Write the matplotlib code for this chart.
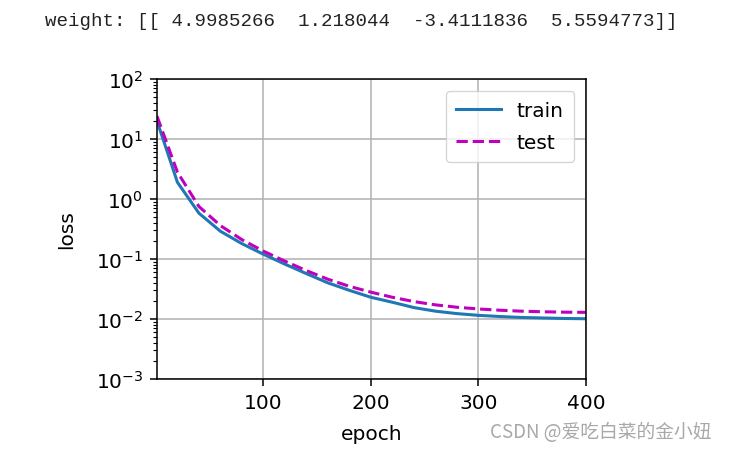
import numpy as np
import matplotlib
matplotlib.use("Agg")
import matplotlib.pyplot as plt

# loss recorded every 20 epochs (plus epoch 1)
epochs = [1, 20, 40, 60, 80, 100, 120, 140, 160, 180, 200,
          220, 240, 260, 280, 300, 320, 340, 360, 380, 400]
train_loss = [20, 1.9, 0.58, 0.29, 0.18, 0.12, 0.082, 0.057, 0.040, 0.030, 0.023,
              0.019, 0.0155, 0.0135, 0.0123, 0.0115, 0.0110, 0.0106, 0.0104, 0.0102, 0.0101]
test_loss = [24, 2.8, 0.75, 0.36, 0.21, 0.135, 0.092, 0.064, 0.046, 0.035, 0.028,
             0.023, 0.0195, 0.0172, 0.0157, 0.0147, 0.0140, 0.0135, 0.0132, 0.0130, 0.0129]
weight_text = "weight: [[ 4.9985266  1.218044  -3.4111836  5.5594773]]"
watermark = "CSDN @爱吃白菜的金小妞"

fs = 14.5
fig = plt.figure(figsize=(7.29, 4.52), dpi=100)
ax = fig.add_axes([157/729, 1 - 380/452, (586 - 157)/729, 300/452])

ax.plot(epochs, train_loss, "-", color="#1f77b4", lw=2.2, label="train")
ax.plot(epochs, test_loss, "--", color="#bf00bf", lw=2.2, label="test")
ax.set_yscale("log")
ax.set_xlim(1, 400)
ax.set_ylim(1e-3, 1e2)
ax.set_xticks([100, 200, 300, 400])
ax.grid(True, color="#b0b0b0", lw=1.1)
ax.set_xlabel("epoch", fontsize=fs, labelpad=9)
ax.set_ylabel("loss", fontsize=fs, labelpad=14)
ax.tick_params(labelsize=fs, width=1.1, length=5, pad=5)
ax.tick_params(which="minor", width=0.8, length=3)
for s in ax.spines.values():
    s.set_linewidth(1.1)
ax.legend(loc="upper right", fontsize=fs, handlelength=2.2, borderpad=0.5,
          labelspacing=0.65, borderaxespad=0.6)

fig.text(45/729, 1 - 22/452, weight_text, family="Liberation Mono",
         fontsize=13.8, va="center", ha="left", color="#222222")
fig.text(712/729, 1 - 433/452, watermark, family=["Noto Sans CJK SC", "DejaVu Sans"],
         fontsize=13.5, va="center", ha="right", color="#a8a8a8")

fig.savefig("out.png", dpi=100)
